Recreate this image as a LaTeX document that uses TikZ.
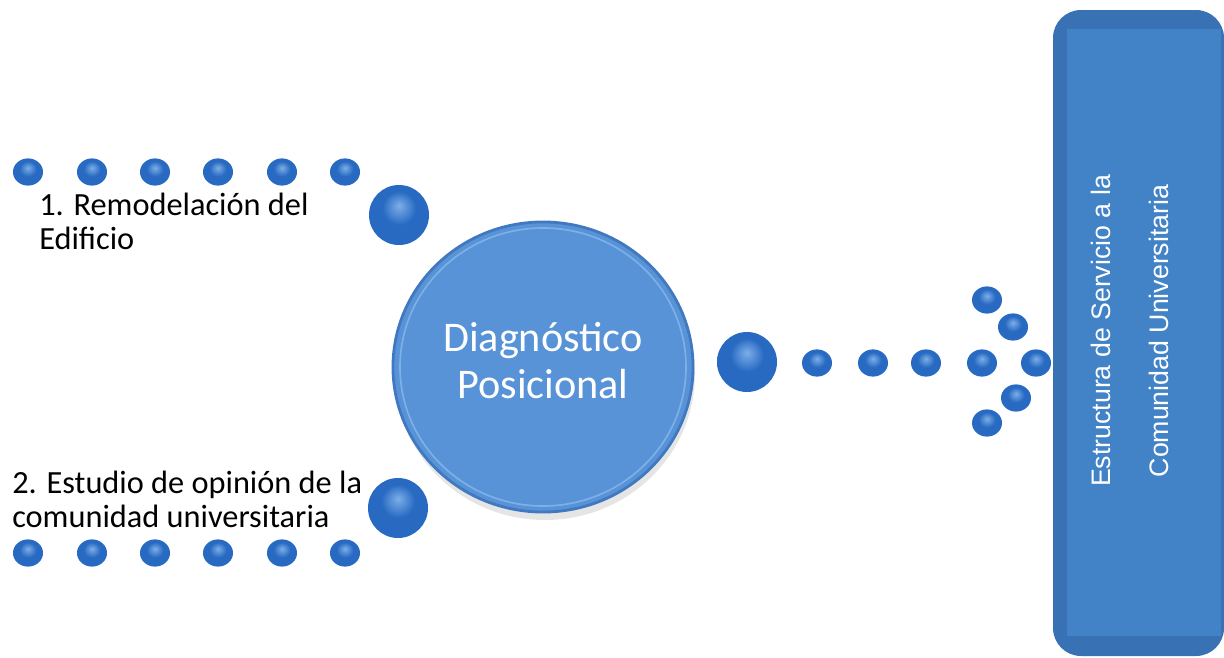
\documentclass[tikz,border=0pt]{standalone}
\usepackage{fontspec}
\setmainfont{Carlito}
\newfontfamily\boxfont{Liberation Sans}
\usetikzlibrary{shapes.geometric}

\definecolor{dotlight}{RGB}{125,175,232}
\definecolor{dotblue}{RGB}{40,106,194}
\definecolor{dotdark}{RGB}{20,58,124}
\definecolor{diagfill}{RGB}{88,147,216}
\definecolor{diagedge}{RGB}{64,121,192}
\definecolor{diagring}{RGB}{125,176,230}
\definecolor{boxouter}{RGB}{56,113,180}
\definecolor{boxinner}{RGB}{66,131,199}

\pgfdeclareradialshading{glossy}{\pgfpoint{0bp}{8bp}}{%
  color(0bp)=(dotlight); color(14bp)=(dotblue); color(34bp)=(dotblue);
  color(46bp)=(dotdark); color(50bp)=(dotdark)}

\begin{document}
\begin{tikzpicture}[
    x=0.025cm, y=-0.025cm,
    dot/.style={ellipse, minimum width=0.75cm, minimum height=0.68cm, inner sep=0pt, shading=glossy},
    middot/.style={circle, minimum size=1.5cm, inner sep=0pt, shading=glossy},
    itemtext/.style={align=left, inner sep=0pt, font=\fontsize{23}{24}\selectfont},
    bigcircle/.style={ellipse, minimum width=7.5cm, minimum height=7.25cm, inner sep=0pt,
        fill=diagfill, draw=diagedge, line width=2pt, text=white, align=center,
        font=\fontsize{30}{33}\selectfont}
]
    \useasboundingbox (0,0) rectangle (1224,658);

    % Top row
    \node[dot] (t1) at (28,172) {};
    \node[dot] (t2) at (92,172) {};
    \node[dot] (t3) at (155,172) {};
    \node[dot] (t4) at (218,172) {};
    \node[dot] (t5) at (282,172) {};
    \node[dot] (t6) at (345,172) {};
    \node[middot] (mt) at (399,215) {};
    \node[itemtext, anchor=base west] (remod) at (39,249) {1. Remodelación del\\Edificio};

    % Bottom row
    \node[dot] (b1) at (28,553) {};
    \node[dot] (b2) at (92,553) {};
    \node[dot] (b3) at (155,553) {};
    \node[dot] (b4) at (218,553) {};
    \node[dot] (b5) at (282,553) {};
    \node[dot] (b6) at (345,553) {};
    \node[middot] (mb) at (398,508) {};
    \node[itemtext, anchor=base west] (estudio) at (12,527) {2. Estudio de opinión de la\\comunidad universitaria};

    % Centre
    \fill[black!10] (545,374) ellipse [x radius=150, y radius=146];
    \node[bigcircle] (diag) at (543,367) {};
    \draw[diagring, line width=1.2pt] (diag.center) ellipse [x radius=143, y radius=139];
    \node[text=white, align=center, inner sep=0pt, font=\fontsize{30}{33}\selectfont,
        anchor=base] (diagtext) at (543,398) {Diagnóstico\\Posicional};

    % Arrow of dots
    \node[middot] (mr) at (747,362) {};
    \node[dot] (r1) at (817,363) {};
    \node[dot] (r2) at (873,363) {};
    \node[dot] (r3) at (926,363) {};
    \node[dot] (r4) at (982,363) {};
    \node[dot] (a1) at (987,300) {};
    \node[dot] (a2) at (1013,327) {};
    \node[dot] (a3) at (1036,363) {};
    \node[dot] (a4) at (1016,398) {};
    \node[dot] (a5) at (987,423) {};

    % Box
    \fill[boxouter, rounded corners=0.7cm] (1053,10) rectangle (1224,656);
    \fill[boxinner] (1067,29) rectangle (1221,636);
    \node[rotate=90, align=center, text=white, inner sep=0pt,
        font=\boxfont\fontsize{19}{41}\selectfont] (estr) at (1130,331)
        {Estructura de Servicio a la\\Comunidad Universitaria};

\end{tikzpicture}
\end{document}
